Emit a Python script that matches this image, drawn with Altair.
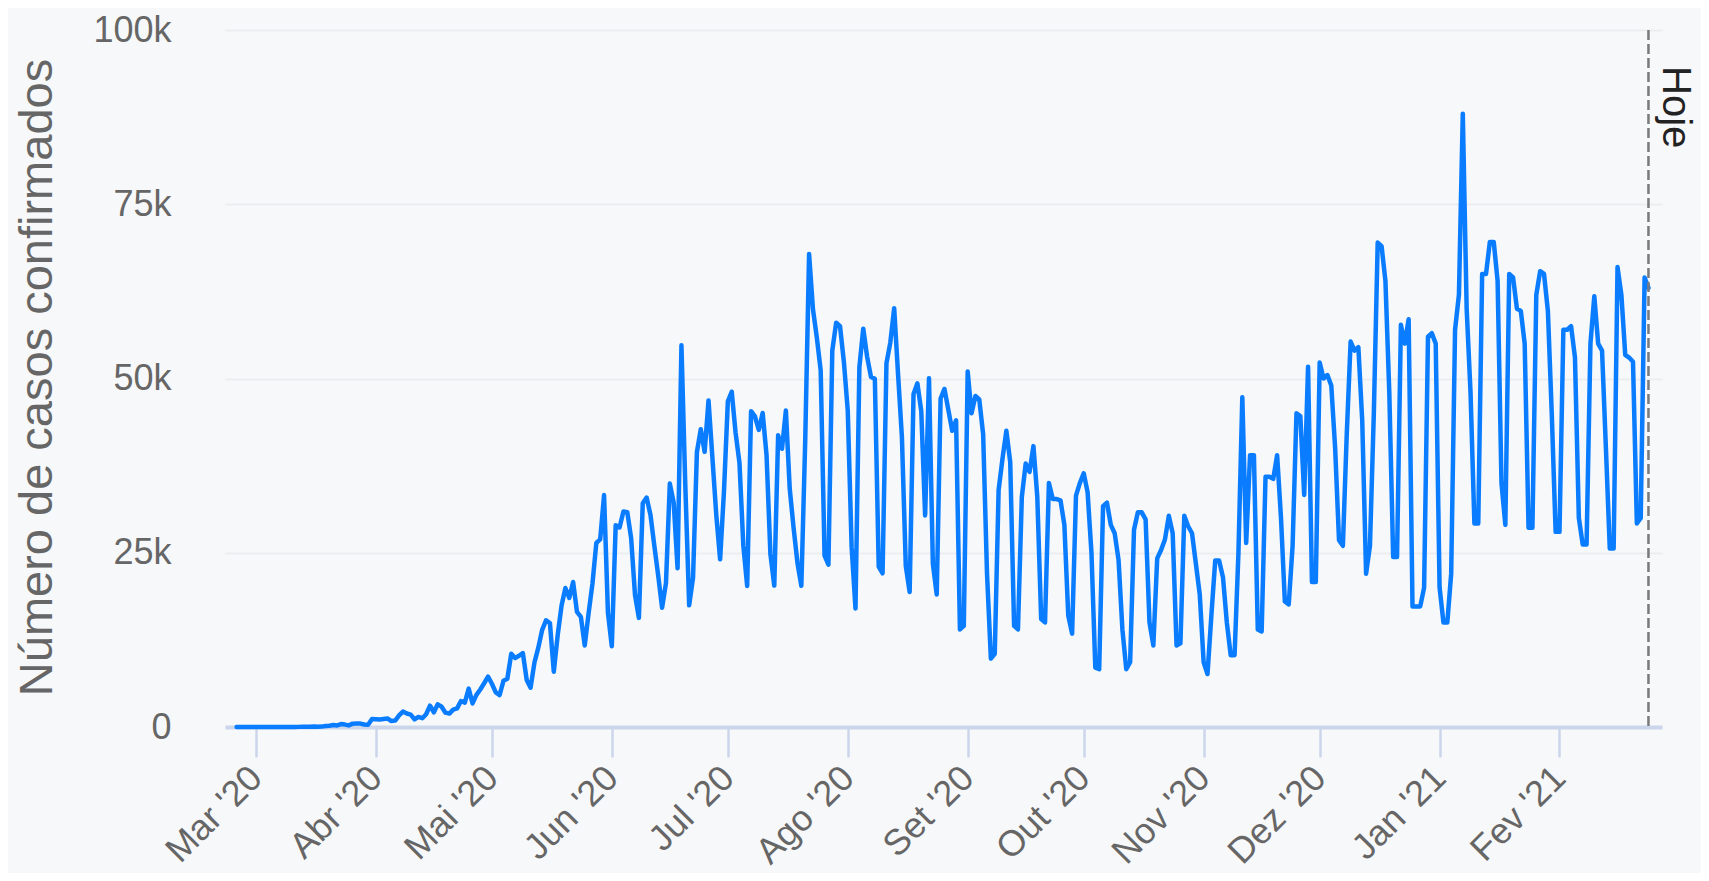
import json
import altair as alt
import pandas as pd

# Daily confirmed cases (Brazil)
feb_2020 = [0, 1, 0, 0, 1]
mar_2020 = [0, 0, 0, 1, 1, 10, 0, 7, 5, 6, 7, 18, 25, 21, 23, 79, 34, 57, 137, 193,
            283, 224, 418, 345, 232, 482, 502, 487, 352, 323, 1138]
apr_2020 = [1119, 1074, 1146, 1222, 852, 926, 1661, 2210, 1930, 1781, 1089, 1442, 1261,
            1832, 3058, 2105, 3257, 2917, 2055, 1927, 2498, 2678, 3735, 3503, 5514, 3379,
            4613, 5385, 6276, 7218]
may_2020 = [6209, 4970, 4588, 6633, 6935, 10503, 9888, 10222, 10611, 6760, 5632, 9258,
            11385, 13944, 15305, 14919, 7938, 13140, 17408, 19951, 18508, 20803, 16508,
            15813, 11687, 16324, 20599, 26417, 26928, 33274, 16409]
jun_2020 = [11598, 28936, 28633, 30925, 30830, 27075, 18912, 15654, 32091, 32913, 30412,
            25982, 21704, 17110, 20647, 34918, 32188, 22765, 54771, 34666, 17459, 21432,
            39436, 42725, 39483, 46860, 38693, 30476, 24052, 33846]
jul_2020 = [46712, 48105, 42223, 37923, 26051, 20229, 45305, 44571, 42619, 45048, 39023,
            24831, 20286, 41857, 39924, 45403, 34177, 28532, 23529, 20257, 41008, 67860,
            59961, 55891, 51147, 24578, 23284, 54000, 58000, 57500, 52383]
aug_2020 = [45392, 25800, 17000, 51603, 57152, 53139, 50230, 49970, 23010, 22048, 52160,
            55155, 60091, 50644, 41576, 23101, 19373, 47784, 49298, 45323, 30355, 50032,
            23421, 19000, 47134, 48500, 45500, 42500, 44000, 14000, 14500]
sep_2020 = [51000, 45000, 47500, 47000, 42000, 22000, 9800, 10500, 34000, 38500, 42500,
            38000, 14500, 14000, 33000, 37800, 36600, 40300, 33000, 15500, 15000, 35000,
            32700, 32700, 32500, 29000, 16000, 13400, 33200, 35000]
oct_2020 = [36400, 33700, 25000, 8500, 8300, 31700, 32200, 29000, 27800, 24000, 14000,
            8300, 9300, 28300, 30800, 30800, 29800, 15000, 11700, 24200, 25400, 26900,
            30300, 27800, 11700, 12000, 30300, 28800, 27800, 23400, 19000]
nov_2020 = [9300, 7600, 16000, 23900, 23900, 21500, 15000, 10300, 10300, 25000, 47300,
            26400, 39000, 39000, 14000, 13700, 35900, 35900, 35600, 39000, 30000, 18000,
            17600, 26000, 45000, 44600, 33300, 51700, 20800, 20800]
dec_2020 = [52300, 50000, 50500, 49000, 40000, 26800, 26000, 42000, 55300, 54000, 54500,
            44000, 22000, 26000, 45000, 69500, 69000, 64000, 48000, 24400, 24400, 57700,
            55000, 58500, 17300, 17300, 17300, 20000, 56000, 56500, 55000]
jan_2021 = [20000, 15000, 15000, 22000, 57000, 62000, 88000, 60000, 48000, 29200, 29200,
            65000, 65000, 69600, 69600, 64000, 35000, 29000, 65000, 64500, 60000, 59700,
            55000, 28600, 28600, 62000, 65400, 65000, 59700, 45000, 28000]
feb_2021 = [28000, 57000, 57000, 57500, 53000, 30000, 26200, 26200, 55000, 61800, 55000,
            54000, 40000, 25600, 25600, 66000, 62000, 53400, 53000, 52400, 29200, 30000,
            64500, 63000]

first_day = "2020-02-25"
today = "2021-02-24"
today_label = "Hoje"

month_names = ["Jan", "Fev", "Mar", "Abr", "Mai", "Jun", "Jul", "Ago", "Set", "Out", "Nov", "Dez"]
month_ticks = [(2020, m) for m in range(3, 13)] + [(2021, 1), (2021, 2)]
y_ticks = [0, 25000, 50000, 75000, 100000]
y_title = "Número de casos confirmados"

values = (feb_2020 + mar_2020 + apr_2020 + may_2020 + jun_2020 + jul_2020 + aug_2020 +
          sep_2020 + oct_2020 + nov_2020 + dec_2020 + jan_2021 + feb_2021)
dates = pd.date_range(first_day, periods=len(values), freq="D").strftime("%Y-%m-%d")
df = pd.DataFrame({"date": list(dates), "cases": values})
today_df = pd.DataFrame({"date": [today], "top": [100000], "label": [today_label]})

FONT = "Liberation Sans"
GREY = "#666666"

x_scale = alt.Scale(
    type="utc",
    domain=[alt.DateTime(year=2020, month=2, date=22, utc=True),
            alt.DateTime(year=2021, month=2, date=27, hours=12, utc=True)],
)
y_scale = alt.Scale(domain=[0, 100000], nice=False)

label_expr_x = (json.dumps(month_names) + "[utcmonth(datum.value)] + \" '\" + "
                "utcFormat(datum.value, '%y')")

x_axis = alt.Axis(
    values=[alt.DateTime(year=y, month=m, date=1, utc=True) for y, m in month_ticks],
    labelExpr=label_expr_x,
    labelAngle=-45, labelAlign="right", labelBaseline="middle",
    labelPadding=15, labelFlush=False, labelOverlap=False, labelBound=False,
    labelFont=FONT, labelFontSize=36, labelColor=GREY,
    tickSize=30, tickWidth=2.5, tickColor="#ccd6eb",
    domainColor="#ccd6eb", domainWidth=4, grid=False, title=None,
)
y_axis = alt.Axis(
    values=y_ticks,
    labelExpr="datum.value == 0 ? '0' : (datum.value / 1000) + 'k'",
    ticks=False, tickSize=0, domain=False,
    grid=True, gridColor="#ebedf0", gridWidth=2,
    labelPadding=54, labelFont=FONT, labelFontSize=36, labelColor=GREY,
    labelBaseline="middle",
    title=y_title, titleFont=FONT, titleFontSize=47, titleColor=GREY,
    titleFontWeight="normal", titleAngle=-90, titleAlign="center",
    titleBaseline="alphabetic", titleX=-174, titleY=347,
)

line = alt.Chart(df).mark_line(
    color="#0a7cff", strokeWidth=4.5, strokeJoin="round", strokeCap="round"
).encode(
    x=alt.X("date:T", scale=x_scale, axis=x_axis),
    y=alt.Y("cases:Q", scale=y_scale, axis=y_axis),
)

rule = alt.Chart(today_df).mark_rule(
    color="#7a7a7a", strokeWidth=2.5, strokeDash=[10, 4]
).encode(
    x=alt.X("date:T", scale=x_scale),
    y=alt.Y("top:Q", scale=y_scale),
    y2=alt.datum(0),
)

text = alt.Chart(today_df).mark_text(
    angle=90, align="left", baseline="alphabetic", dx=36, dy=-15,
    font=FONT, fontSize=40, color="#222222",
).encode(
    x=alt.X("date:T", scale=x_scale),
    y=alt.Y("top:Q", scale=y_scale),
    text="label:N",
)

chart = alt.layer(line, rule, text).properties(
    width=1437, height=697,
    padding={"left": 217, "top": 22, "right": 39, "bottom": 146},
    autosize=alt.AutoSizeParams(type="none"),
    background="#f7f8fa",
).configure_view(stroke=None)

chart.save("out.html", embed_options={"renderer": "svg", "actions": False})
